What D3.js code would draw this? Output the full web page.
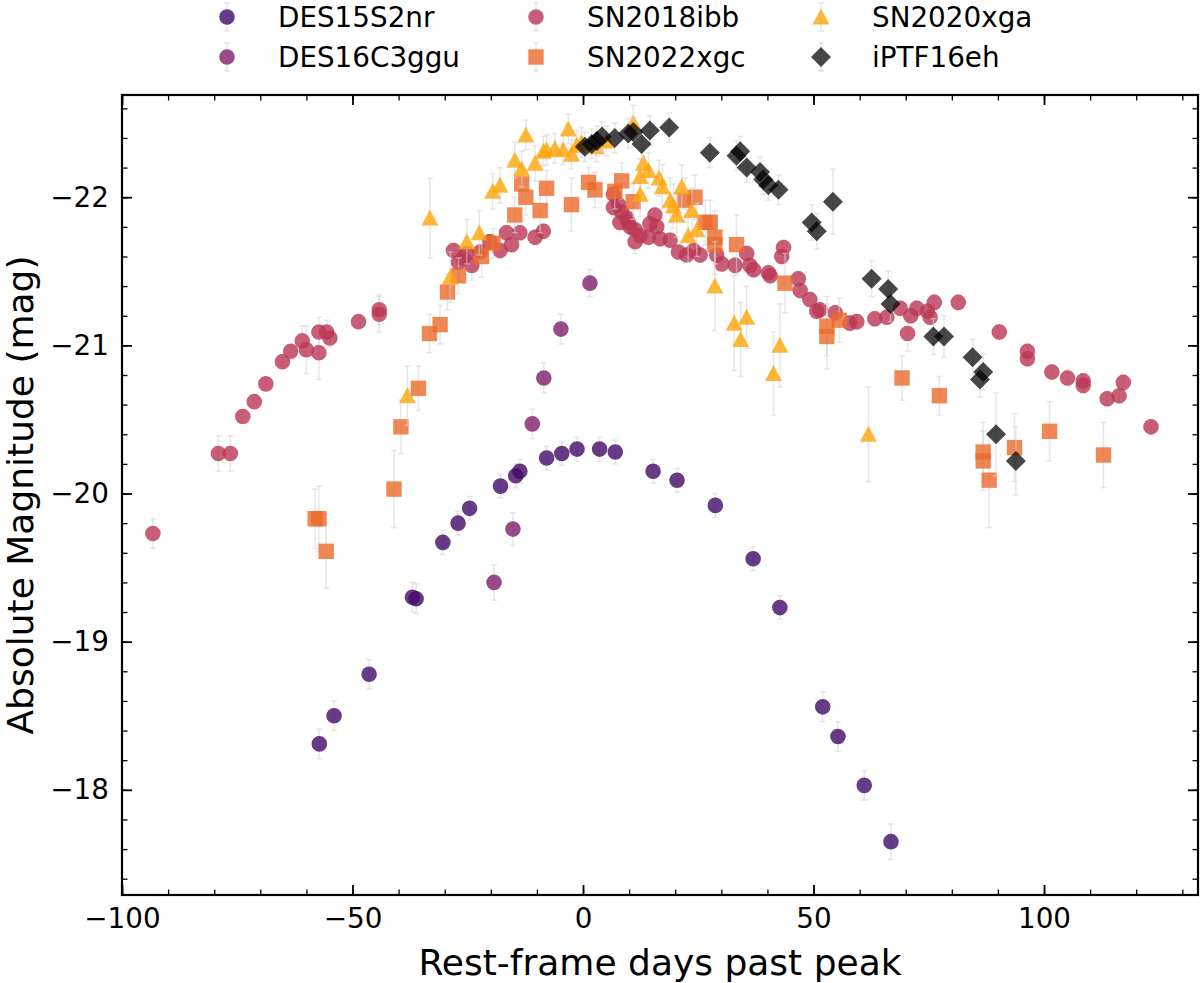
<!DOCTYPE html>
<html>
<head>
<meta charset="utf-8">
<script src="https://cdn.jsdelivr.net/npm/d3@7"></script>
<style>
  body { margin: 0; background: #fff; }
  svg { font-family: "DejaVu Sans", sans-serif; }
</style>
</head>
<body>
<svg id="svg" width="1200" height="983"></svg>
<script>
// [rest-frame day, absolute mag, error]
const DES15S2nr = [
  [-57.2,-18.31,0.10],[-54.0,-18.50,0.10],[-46.4,-18.78,0.10],[-37.0,-19.30,0.10],[-36.2,-19.29,0.10],
  [-30.4,-19.67,0.08],[-27.1,-19.80,0.08],[-24.6,-19.90,0.08],[-17.9,-20.05,0.08],[-14.6,-20.12,0.08],
  [-13.7,-20.15,0.08],[-7.9,-20.24,0.08],[-4.6,-20.27,0.08],[-1.3,-20.30,0.08],[3.6,-20.30,0.08],
  [7.0,-20.28,0.08],[15.2,-20.15,0.08],[20.4,-20.09,0.08],[28.7,-19.92,0.08],[36.9,-19.56,0.08],
  [42.7,-19.23,0.08],[52.0,-18.56,0.10],[55.3,-18.36,0.10],[61.0,-18.03,0.10],[66.8,-17.65,0.12]
];
const DES16C3ggu = [
  [-19.3,-19.40,0.12],[-15.2,-19.76,0.11],[-11.0,-20.47,0.10],[-8.5,-20.78,0.10],[-4.8,-21.11,0.10],[1.5,-21.42,0.09]
];
const SN2018ibb = [
  [-93.3,-19.73,0.10],[-79.1,-20.27,0.12],[-76.5,-20.27,0.12],[-73.8,-20.52,0.03],[-71.3,-20.62,0.03],
  [-68.8,-20.74,0.03],[-65.2,-20.89,0.03],[-63.4,-20.96,0.03],[-60.9,-21.03,0.10],[-60.0,-20.97,0.16],
  [-57.3,-21.09,0.10],[-57.3,-20.95,0.18],[-55.6,-21.09,0.08],[-54.9,-21.05,0.06],[-48.7,-21.16,0.03],
  [-44.2,-21.24,0.10],[-44.2,-21.21,0.12],[-28.1,-21.64,0.05],[-27.0,-21.56,0.08],[-26.0,-21.59,0.05],
  [-25.2,-21.62,0.05],[-24.1,-21.54,0.10],[-22.3,-21.63,0.05],[-20.2,-21.70,0.05],[-18.0,-21.64,0.05],
  [-16.6,-21.76,0.05],[-15.5,-21.68,0.05],[-13.7,-21.76,0.05],[-10.4,-21.73,0.05],[-8.6,-21.77,0.05],
  [6.6,-22.02,0.05],[7.7,-21.95,0.05],[6.6,-21.93,0.05],[8.0,-21.83,0.05],[8.4,-21.90,0.05],
  [9.5,-21.86,0.05],[9.8,-21.83,0.05],[10.2,-21.80,0.05],[11.3,-21.78,0.05],[11.3,-21.70,0.08],
  [12.4,-21.74,0.05],[14.2,-21.73,0.05],[14.5,-21.82,0.05],[15.6,-21.88,0.05],[16.0,-21.80,0.05],
  [16.7,-21.72,0.05],[18.9,-21.71,0.05],[20.7,-21.63,0.05],[22.5,-21.61,0.05],[24.0,-21.64,0.05],
  [25.4,-21.61,0.05],[29.0,-21.61,0.05],[30.1,-21.55,0.05],[33.0,-21.54,0.05],[35.5,-21.62,0.05],
  [36.2,-21.54,0.05],[37.0,-21.51,0.05],[40.2,-21.49,0.05],[40.6,-21.47,0.05],[43.1,-21.60,0.05],
  [43.5,-21.66,0.05],[46.7,-21.45,0.05],[47.1,-21.37,0.05],[49.2,-21.31,0.05],[50.7,-21.23,0.05],
  [51.4,-21.24,0.05],[54.7,-21.22,0.05],[57.9,-21.15,0.05],[59.4,-21.16,0.05],[63.3,-21.18,0.05],
  [65.9,-21.19,0.05],[68.8,-21.25,0.05],[70.4,-21.08,0.12],[71.1,-21.20,0.05],[72.4,-21.25,0.05],
  [74.7,-21.23,0.05],[75.3,-21.19,0.05],[76.2,-21.29,0.05],[81.4,-21.29,0.05],[90.3,-21.09,0.05],
  [96.4,-20.96,0.05],[96.4,-20.91,0.05],[101.7,-20.82,0.05],[105.1,-20.78,0.05],[108.5,-20.76,0.05],
  [108.5,-20.73,0.05],[113.7,-20.64,0.05],[116.3,-20.66,0.05],[117.2,-20.75,0.05],[123.2,-20.45,0.05]
];
const SN2022xgc = [
  [-58.1,-19.83,0.20],[-57.3,-19.83,0.22],[-55.7,-19.61,0.25],[-41.0,-20.03,0.26],[-39.5,-20.45,0.18],
  [-35.7,-20.71,0.15],[-33.3,-21.08,0.13],[-31.0,-21.14,0.13],[-29.4,-21.36,0.12],[-27.0,-21.47,0.12],
  [-22.0,-21.60,0.14],[-19.5,-21.69,0.10],[-14.8,-21.88,0.12],[-13.3,-22.09,0.10],[-12.4,-22.00,0.12],
  [-9.3,-21.91,0.15],[-7.9,-22.06,0.12],[-2.5,-21.95,0.18],[1.2,-22.10,0.10],[2.6,-22.05,0.12],
  [6.9,-22.04,0.12],[8.4,-22.11,0.12],[10.9,-21.97,0.12],[22.1,-21.98,0.15],[24.3,-22.00,0.15],
  [26.5,-21.83,0.15],[27.6,-21.83,0.15],[28.6,-21.73,0.18],[28.6,-21.68,0.20],[33.3,-21.68,0.20],
  [43.8,-21.42,0.20],[52.9,-21.13,0.20],[52.9,-21.06,0.22],[55.6,-21.17,0.15],[69.2,-20.78,0.15],
  [77.3,-20.66,0.13],[86.8,-20.28,0.20],[86.8,-20.22,0.20],[88.1,-20.09,0.32],[93.6,-20.31,0.23],
  [101.2,-20.42,0.20],[112.9,-20.26,0.22]
];
const SN2020xga = [
  [-38.1,-20.66,0.20],[-33.2,-21.86,0.27],[-28.8,-21.46,0.17],[-25.2,-21.70,0.15],[-22.5,-21.76,0.15],
  [-19.6,-22.04,0.12],[-18.0,-22.08,0.12],[-14.8,-22.25,0.12],[-13.3,-22.19,0.12],[-12.4,-22.42,0.10],
  [-10.4,-22.23,0.12],[-8.6,-22.31,0.10],[-7.9,-22.32,0.10],[-6.1,-22.33,0.10],[-4.3,-22.32,0.10],
  [-3.2,-22.46,0.10],[-2.5,-22.29,0.10],[-1.4,-22.35,0.10],[-0.3,-22.37,0.10],[2.9,-22.34,0.10],
  [5.1,-22.38,0.10],[10.9,-22.50,0.12],[12.4,-22.02,0.15],[12.4,-22.14,0.12],[13.1,-22.23,0.12],
  [14.2,-22.18,0.12],[16.5,-22.13,0.12],[17.2,-22.07,0.15],[18.9,-21.98,0.15],[19.6,-21.94,0.15],
  [20.3,-21.88,0.15],[21.4,-22.07,0.15],[22.8,-21.74,0.18],[23.6,-21.91,0.15],[24.7,-21.78,0.18],
  [28.6,-21.40,0.30],[32.8,-21.15,0.32],[34.2,-21.04,0.25],[35.5,-21.19,0.21],[41.3,-20.81,0.28],
  [42.7,-21.00,0.28],[61.9,-20.40,0.32]
];
const iPTF16eh = [
  [0.4,-22.34,0.10],[1.9,-22.36,0.10],[3.0,-22.38,0.10],[4.1,-22.41,0.10],[6.9,-22.40,0.10],
  [9.8,-22.43,0.10],[10.9,-22.44,0.10],[12.7,-22.36,0.10],[14.5,-22.45,0.10],[18.7,-22.47,0.10],
  [27.5,-22.30,0.10],[33.3,-22.28,0.10],[34.1,-22.31,0.10],[35.5,-22.20,0.10],[38.4,-22.17,0.10],
  [39.1,-22.12,0.10],[40.2,-22.08,0.10],[42.4,-22.05,0.10],[49.6,-21.83,0.12],[50.7,-21.77,0.12],
  [54.2,-21.97,0.22],[62.6,-21.45,0.12],[66.2,-21.38,0.12],[66.7,-21.28,0.12],[76.0,-21.06,0.12],
  [78.3,-21.06,0.14],[84.5,-20.92,0.12],[86.8,-20.82,0.12],[86.1,-20.77,0.12],[89.6,-20.40,0.28],
  [93.9,-20.22,0.23]
];

const names   = ["DES15S2nr", "DES16C3ggu", "SN2018ibb", "SN2022xgc", "SN2020xga", "iPTF16eh"];
const colors  = ["#420a68", "#7f1e6c", "#bc3754", "#ec6a2a", "#fca50a", "#000000"];
const shapes  = ["circle", "circle", "circle", "square", "triangle", "diamond"];
const alphas  = [0.8, 0.8, 0.8, 0.8, 0.8, 0.72];
const allData = [DES15S2nr, DES16C3ggu, SN2018ibb, SN2022xgc, SN2020xga, iPTF16eh];

const xTicks = [-100, -50, 0, 50, 100];
const yTicks = [-22, -21, -20, -19, -18];

function draw(){
  var svg = d3.select("#svg");
  var left = 122, right = 1198, top = 95, bottom = 895;

  var scaleX = d3.scaleLinear().domain([-100, 133.4]).range([left, right]);
  var scaleY = d3.scaleLinear().domain([-22.69, -17.29]).range([top, bottom]);

  // marker path for a given shape, centered at 0,0
  function markerPath(shape){
    if (shape == "circle") return d3.symbol().type(d3.symbolCircle).size(Math.PI * 7.8 * 7.8)();
    if (shape == "square") return "M-7.7,-7.7H7.7V7.7H-7.7Z";
    if (shape == "triangle") return "M0,-8.5L8.5,7.5L-8.5,7.5Z";
    return "M0,-10L10,0L0,10L-10,0Z";
  }

  var gPlot = svg.append("g");

  // each series: error bars then markers
  allData.forEach(function(data, i){
    var g = gPlot.append("g");
    var eb = g.selectAll(".eb").data(data).enter().append("g")
      .attr("stroke", "#d3d3d3").attr("stroke-opacity", 0.55).attr("stroke-width", 1.5);
    eb.append("line")
      .attr("x1", d => scaleX(d[0])).attr("x2", d => scaleX(d[0]))
      .attr("y1", d => scaleY(d[1] - d[2])).attr("y2", d => scaleY(d[1] + d[2]));
    eb.append("line")
      .attr("x1", d => scaleX(d[0]) - 3).attr("x2", d => scaleX(d[0]) + 3)
      .attr("y1", d => scaleY(d[1] - d[2])).attr("y2", d => scaleY(d[1] - d[2]));
    eb.append("line")
      .attr("x1", d => scaleX(d[0]) - 3).attr("x2", d => scaleX(d[0]) + 3)
      .attr("y1", d => scaleY(d[1] + d[2])).attr("y2", d => scaleY(d[1] + d[2]));

    g.selectAll(".pt").data(data).enter().append("path")
      .attr("d", markerPath(shapes[i]))
      .attr("transform", d => "translate(" + scaleX(d[0]) + "," + scaleY(d[1]) + ")")
      .attr("fill", colors[i])
      .attr("fill-opacity", alphas[i]);
  });

  // axes, ticks pointing inward
  var fmt = d3.format("d");
  var xMinor = d3.range(-100, 131, 10);
  var yMinor = d3.range(-22.6, -17.3, 0.2).map(v => +v.toFixed(1));

  function styleAxis(g){
    g.select(".domain").remove();
    g.selectAll(".tick line").attr("stroke", "#000").attr("stroke-width", 1.8);
    g.selectAll("text").attr("font-size", 27.8).attr("fill", "#000").attr("font-family", "DejaVu Sans");
  }
  function minorAxis(g){
    g.select(".domain").remove();
    g.selectAll(".tick line").attr("stroke", "#000").attr("stroke-width", 1.3);
  }

  svg.append("g").attr("transform", "translate(0," + bottom + ")")
    .call(d3.axisBottom(scaleX).tickValues(xMinor).tickSize(-5.5).tickFormat("")).call(minorAxis);
  svg.append("g").attr("transform", "translate(0," + top + ")")
    .call(d3.axisTop(scaleX).tickValues(xMinor).tickSize(-5.5).tickFormat("")).call(minorAxis);
  svg.append("g").attr("transform", "translate(" + left + ",0)")
    .call(d3.axisLeft(scaleY).tickValues(yMinor).tickSize(-5.5).tickFormat("")).call(minorAxis);
  svg.append("g").attr("transform", "translate(" + right + ",0)")
    .call(d3.axisRight(scaleY).tickValues(yMinor).tickSize(-5.5).tickFormat("")).call(minorAxis);

  svg.append("g").attr("transform", "translate(0," + bottom + ")")
    .call(d3.axisBottom(scaleX).tickValues(xTicks).tickSize(-10).tickPadding(13).tickFormat(fmt)).call(styleAxis);
  svg.append("g").attr("transform", "translate(0," + top + ")")
    .call(d3.axisTop(scaleX).tickValues(xTicks).tickSize(-10).tickFormat("")).call(styleAxis);
  svg.append("g").attr("transform", "translate(" + left + ",0)")
    .call(d3.axisLeft(scaleY).tickValues(yTicks).tickSize(-10).tickPadding(13).tickFormat(fmt)).call(styleAxis);
  svg.append("g").attr("transform", "translate(" + right + ",0)")
    .call(d3.axisRight(scaleY).tickValues(yTicks).tickSize(-10).tickFormat("")).call(styleAxis);

  // frame
  svg.append("rect")
    .attr("x", left).attr("y", top).attr("width", right - left).attr("height", bottom - top)
    .attr("fill", "none").attr("stroke", "#000").attr("stroke-width", 2.2);

  // axis labels
  svg.append("text")
    .attr("x", (left + right) / 2).attr("y", 975)
    .attr("text-anchor", "middle").attr("font-size", 36)
    .text("Rest-frame days past peak");
  svg.append("text")
    .attr("transform", "translate(33," + ((top + bottom) / 2) + ") rotate(-90)")
    .attr("text-anchor", "middle").attr("font-size", 36)
    .text("Absolute Magnitude (mag)");

  // legend: 3 columns x 2 rows, above the plot
  var colX = [227, 536, 821], rowY = [17, 57];
  names.forEach(function(name, i){
    var cx = colX[Math.floor(i / 2)], cy = rowY[i % 2];
    var lg = svg.append("g");
    lg.append("line").attr("x1", cx).attr("x2", cx).attr("y1", cy - 14).attr("y2", cy + 14)
      .attr("stroke", "#d3d3d3").attr("stroke-opacity", 0.55).attr("stroke-width", 1.5);
    [cy - 14, cy + 14].forEach(function(yy){
      lg.append("line").attr("x1", cx - 3).attr("x2", cx + 3).attr("y1", yy).attr("y2", yy)
        .attr("stroke", "#d3d3d3").attr("stroke-opacity", 0.55).attr("stroke-width", 1.5);
    });
    lg.append("path").attr("d", markerPath(shapes[i]))
      .attr("transform", "translate(" + cx + "," + cy + ")")
      .attr("fill", colors[i]).attr("fill-opacity", alphas[i]);
    lg.append("text").attr("x", cx + 51).attr("y", cy).attr("dy", "0.35em")
      .attr("font-size", 27.8).text(name);
  });
}
draw();
</script>
</body>
</html>
